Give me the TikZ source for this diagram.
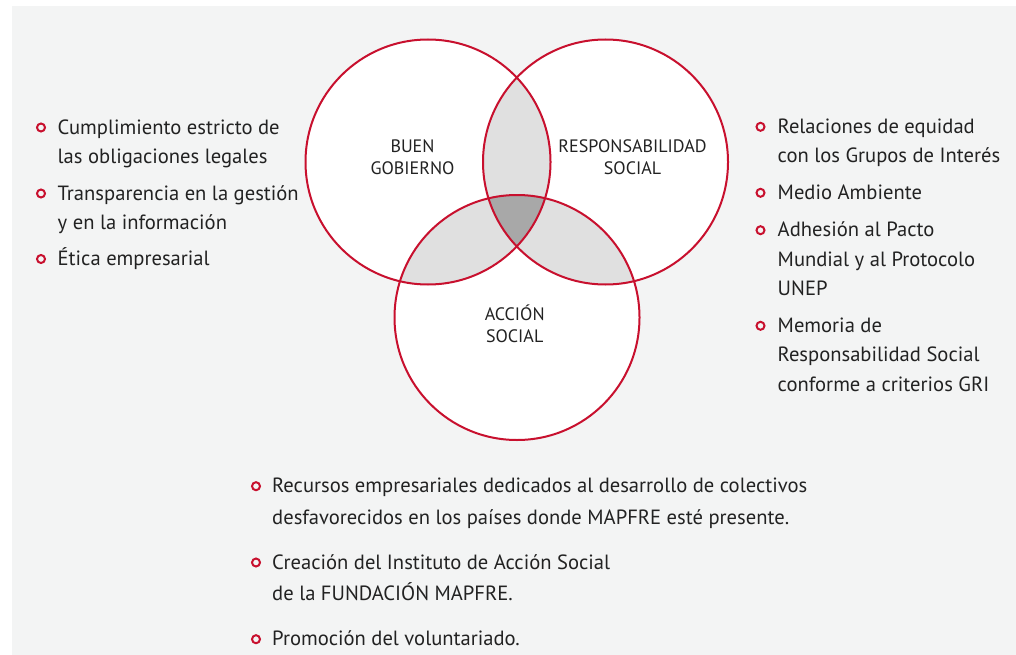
\documentclass[tikz,border=0pt]{standalone}
\usepackage{fontspec}
\setmainfont{PT Sans}
\definecolor{mapfrered}{HTML}{C8102E}
\definecolor{panelgray}{HTML}{F3F4F4}
\definecolor{lensgray}{HTML}{E0E0E0}
\definecolor{coregray}{HTML}{A8A8A8}
\definecolor{txtgray}{HTML}{222222}
\begin{document}
\begin{tikzpicture}[x=1pt, y=-1pt,
    ring/.style={draw=mapfrered, line width=2pt},
    dot/.style={circle, draw=mapfrered, line width=2pt, inner sep=0pt, minimum size=8pt},
    item/.style={anchor=base west, align=left, inner sep=0pt, text=txtgray,
        font=\fontsize{20.6}{29.5}\selectfont},
    lowitem/.style={item, font=\fontsize{20.6}{31.5}\selectfont},
    tag/.style={anchor=base, align=center, inner sep=0pt, text=txtgray,
        font=\fontsize{18}{22}\selectfont}]
    \useasboundingbox (0,0) rectangle (1016,655);
    \fill[white] (0,0) rectangle (1016,655);
    \fill[panelgray] (12,6) rectangle (1016,655);

    % Define the circles
    \def\rad{122.5}
    \coordinate (buen) at (428,162);
    \coordinate (resp) at (605.5,162);
    \coordinate (accion) at (517,317.5);
    \fill[white] (buen) circle[radius=\rad];
    \fill[white] (resp) circle[radius=\rad];
    \fill[white] (accion) circle[radius=\rad];

    % Overlaps
    \begin{scope}
        \clip (buen) circle[radius=\rad];
        \fill[lensgray] (resp) circle[radius=\rad];
        \fill[lensgray] (accion) circle[radius=\rad];
    \end{scope}
    \begin{scope}
        \clip (resp) circle[radius=\rad];
        \fill[lensgray] (accion) circle[radius=\rad];
    \end{scope}
    \begin{scope}
        \clip (buen) circle[radius=\rad];
        \clip (resp) circle[radius=\rad];
        \fill[coregray] (accion) circle[radius=\rad];
    \end{scope}

    \draw[ring] (buen) circle[radius=\rad];
    \draw[ring] (resp) circle[radius=\rad];
    \draw[ring] (accion) circle[radius=\rad];

    % Circle labels (placed at the baseline of the last line)
    \node[tag] (buentag) at (412.5,175) {BUEN\\GOBIERNO};
    \node[tag] (resptag) at (632.5,175) {RESPONSABILIDAD\\SOCIAL};
    \node[tag] (acciontag) at (514.7,342.7) {ACCIÓN\\SOCIAL};

    % Left list
    \node[dot] (ldot1) at (41,127.5) {};
    \node[dot] (ldot2) at (41,193.5) {};
    \node[dot] (ldot3) at (41,259) {};
    \node[item] (litem1) at (57.5,163.8) {Cumplimiento estricto de\\las obligaciones legales};
    \node[item] (litem2) at (57.5,229.5) {Transparencia en la gestión\\y en la información};
    \node[item] (litem3) at (57.5,265.7) {Ética empresarial};

    % Right list
    \node[dot] (rdot1) at (760.5,126.8) {};
    \node[dot] (rdot2) at (760.5,192.8) {};
    \node[dot] (rdot3) at (760.5,230.2) {};
    \node[dot] (rdot4) at (760.5,325.8) {};
    \node[item] (ritem1) at (777.5,162.8) {Relaciones de equidad\\con los Grupos de Interés};
    \node[item] (ritem2) at (777.5,199.3) {Medio Ambiente};
    \node[item] (ritem3) at (777.5,295.7) {Adhesión al Pacto\\Mundial y al Protocolo\\UNEP};
    \node[item] (ritem4) at (777.5,391.3) {Memoria de\\Responsabilidad Social\\conforme a criterios GRI};

    % Bottom list
    \node[dot] (bdot1) at (256,486.2) {};
    \node[dot] (bdot2) at (256,562.5) {};
    \node[dot] (bdot3) at (256,639.2) {};
    \node[lowitem] (bitem1) at (272,524.2) {Recursos empresariales dedicados al desarrollo de colectivos\\desfavorecidos en los países donde MAPFRE esté presente.};
    \node[lowitem] (bitem2) at (272,600.5) {Creación del Instituto de Acción Social\\de la FUNDACIÓN MAPFRE.};
    \node[lowitem] (bitem3) at (272,645.7) {Promoción del voluntariado.};
\end{tikzpicture}
\end{document}
